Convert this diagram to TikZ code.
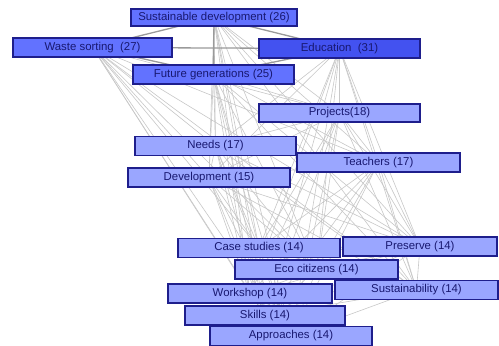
\documentclass[tikz,border=0pt]{standalone}
\usepackage{fontspec}
\setmainfont{Liberation Sans}
\usetikzlibrary{backgrounds}
\definecolor{navy}{HTML}{1E1E8C}
\definecolor{midblue}{HTML}{6272FF}
\definecolor{darkblue}{HTML}{4352F0}
\definecolor{lightblue}{HTML}{9AA6FF}
\definecolor{edgegray}{HTML}{C8C8C8}
\definecolor{topgray}{HTML}{9A9A9A}
\tikzset{
  box/.style={draw=navy, line width=1.3pt, inner sep=0pt, minimum height=19pt,
    font=\fontsize{11.4}{12}\selectfont, text=navy!80!black},
  edge/.style={draw=edgegray, line width=0.6pt},
  topedge/.style={draw=topgray, line width=1.3pt},
}
\begin{document}
\begin{tikzpicture}[x=1pt,y=-1pt]
\useasboundingbox (0,0) rectangle (499,346);
\node[box, fill=midblue, minimum width=166pt, minimum height=17pt] (sd) at (214,17.5) {Sustainable development (26)};
\node[box, fill=midblue, minimum width=159pt] (ws) at (92.5,47.5) {Waste sorting\ \ (27)};
\node[box, fill=darkblue, minimum width=161pt] (ed) at (339.5,48.5) {Education\ \ (31)};
\node[box, fill=midblue, minimum width=161pt] (fg) at (213.5,74.5) {Future generations (25)};
\node[box, fill=lightblue, minimum width=161pt, minimum height=18pt] (pr) at (339.5,113) {Projects(18)};
\node[box, fill=lightblue, minimum width=161pt] (ne) at (215.5,146) {Needs (17)};
\node[box, fill=lightblue, minimum width=163pt] (te) at (378.5,162.5) {Teachers (17)};
\node[box, fill=lightblue, minimum width=162pt] (de) at (209,177.5) {Development (15)};
\node[box, fill=lightblue, minimum width=162pt] (cs) at (259,248) {Case studies (14)};
\node[box, fill=lightblue, minimum width=154pt] (ps) at (420,246.5) {Preserve (14)};
\node[box, fill=lightblue, minimum width=163pt] (ec) at (316.5,269.5) {Eco citizens (14)};
\node[box, fill=lightblue, minimum width=163pt] (su) at (416.5,290) {Sustainability (14)};
\node[box, fill=lightblue, minimum width=164pt] (wo) at (250,293.5) {Workshop (14)};
\node[box, fill=lightblue, minimum width=160pt] (sk) at (265,315.5) {Skills (14)};
\node[box, fill=lightblue, minimum width=162pt] (ap) at (291,336) {Approaches (14)};
\begin{scope}[on background layer]
\fill[white] (0,0) rectangle (499,346);
\foreach \a [count=\i] in {sd,ws,ed,fg,pr,ne,te,de,cs,ps,ec,su,wo,sk,ap}{
  \foreach \b [count=\j] in {sd,ws,ed,fg,pr,ne,te,de,cs,ps,ec,su,wo,sk,ap}{
    \ifnum\j>\i
      \ifnum\j>4
        \draw[edge] (\a.center) -- (\b.center);
      \fi
    \fi
  }
}
\draw[topedge] (sd.center) -- (ws.center);
\draw[topedge] (sd.center) -- (ed.center);
\draw[topedge] (ws.center) -- (ed.center);
\draw[topedge] (ws.center) -- (fg.center);
\draw[topedge] (fg.center) -- (ed.center);
\draw[topedge] (sd.center) -- (fg.center);
\end{scope}
\end{tikzpicture}
\end{document}
